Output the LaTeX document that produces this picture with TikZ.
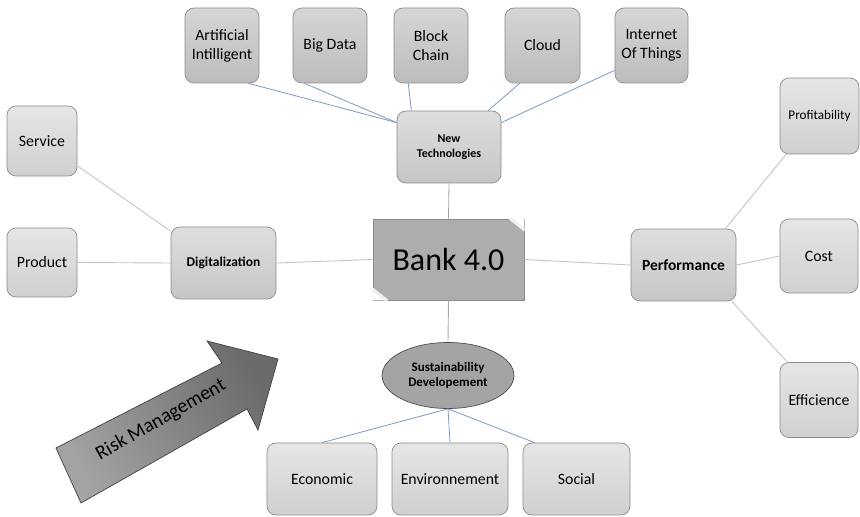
\documentclass[tikz,border=0pt]{standalone}
\usepackage{fontspec}
\setmainfont{Carlito}
\usetikzlibrary{shapes.geometric}
\definecolor{boxline}{HTML}{8C8C8C}
\definecolor{leaftop}{HTML}{E6E6E6}
\definecolor{leafbot}{HTML}{D0D0D0}
\definecolor{techtop}{HTML}{D6D6D6}
\definecolor{techbot}{HTML}{BCBCBC}
\definecolor{hubtop}{HTML}{DEDEDE}
\definecolor{hubbot}{HTML}{C6C6C6}
\definecolor{bankfill}{HTML}{ADADAD}
\definecolor{ovalfill}{HTML}{A4A4A4}
\definecolor{bluelink}{HTML}{7C98C4}
\definecolor{greylink}{HTML}{C4C4C4}
\definecolor{midlink}{HTML}{98A6B8}
\tikzset{
  x=1pt, y=1pt,
  card/.style={draw=boxline, line width=0.7pt, rounded corners=9pt,
    align=center, inner sep=0pt, font=\fontsize{15.8}{19}\selectfont},
  leafbox/.style={card, top color=leaftop, bottom color=leafbot,
    minimum width=78pt, minimum height=74pt},
  techbox/.style={card, top color=techtop, bottom color=techbot,
    minimum width=74pt, minimum height=75pt},
  hubbox/.style={card, top color=hubtop, bottom color=hubbot,
    minimum width=105pt, minimum height=72pt},
  bottombox/.style={card, top color=leaftop, bottom color=leafbot,
    minimum height=72pt},
  bluewire/.style={draw=bluelink, line width=0.8pt},
  greywire/.style={draw=greylink, line width=0.9pt},
  midwire/.style={draw=midlink, line width=0.8pt}
}
\begin{document}
\begin{tikzpicture}
\useasboundingbox (0,0) rectangle (860,517);

% technology row
\node[techbox] (ai)  at (222,471.5) {Artificial\\Intilligent};
\node[techbox] (bd)  at (330,471.5) {Big Data};
\node[techbox] (bc)  at (431,471.5) {Block\\Chain};
\node[techbox, minimum width=75pt] (cl)  at (542.5,471.5) {Cloud};
\node[techbox, minimum width=73pt] (iot) at (651.5,471.5) {Internet\\Of Things};

% hubs around the centre
\node[hubbox, minimum width=104pt, font=\bfseries\fontsize{12}{14.5}\selectfont] (nt) at (449,370) {New\\Technologies};
\node[hubbox, font=\bfseries\fontsize{13.5}{15}\selectfont] (dig) at (223.5,254) {Digitalization};
\node[hubbox, font=\bfseries\fontsize{15.5}{17}\selectfont] (perf) at (683.5,252) {Performance};

% left leaves
\node[leafbox, minimum width=70pt, minimum height=70pt] (svc) at (42,376) {Service};
\node[leafbox, minimum width=70pt, minimum height=69pt] (prd) at (42,254.5) {Product};

% right leaves
\node[leafbox, minimum width=79pt, minimum height=76pt, font=\fontsize{13.2}{15}\selectfont] (prof) at (819.5,401) {Profitability};
\node[leafbox] (cost) at (819,261) {Cost};
\node[leafbox, minimum height=75pt] (eff) at (819,117) {Efficience};

% sustainability branch
\node[ellipse, draw=black!70, line width=0.7pt, fill=ovalfill, minimum width=132pt, minimum height=66pt,
  inner sep=0pt, align=center, font=\bfseries\fontsize{13}{15.5}\selectfont] (sus) at (448,141.5) {Sustainability\\Developement};
\node[bottombox, minimum width=110pt] (eco) at (322,38) {Economic};
\node[bottombox, minimum width=116pt] (env) at (450,38) {Environnement};
\node[bottombox, minimum width=107pt] (soc) at (576.5,38) {Social};

% central node with its two folded corners
\node[draw=boxline, line width=0.7pt, fill=bankfill, minimum width=151pt, minimum height=81pt,
  inner sep=0pt, font=\fontsize{32}{36}\selectfont] (bank) at (448.5,257.5) {Bank 4.0};
\fill[white] (bank.north east) -- ([xshift=-16pt]bank.north east) -- ([yshift=-13pt]bank.north east) -- cycle;
\draw[white!88!gray, line width=3pt] ([xshift=-14pt]bank.north east) -- ([yshift=-11pt]bank.north east);
\fill[white] (bank.south west) -- ([xshift=16pt]bank.south west) -- ([yshift=13pt]bank.south west) -- cycle;
\draw[white!88!gray, line width=3pt] ([xshift=14pt]bank.south west) -- ([yshift=11pt]bank.south west);

% connectors of the technology row
\draw[bluewire] (ai.-55)   -- (nt.155);
\draw[bluewire] (bd.-124)  -- (nt.155);
\draw[bluewire] (bc.-121)  -- (nt.136);
\draw[bluewire] (cl.-121)  -- (nt.43);
\draw[bluewire] (iot.-146) -- (nt.25);

% connectors of the centre
\draw[midwire]  (nt.south)   -- (bank.north);
\draw[greywire, draw=black!35] (bank.south) -- (sus.north);
\draw[greywire] (bank.west)  -- (dig.east);
\draw[greywire] (bank.east)  -- (perf.west);

% digitalization branch
\draw[greywire] (svc.-35)   -- (dig.149);
\draw[greywire] (prd.east)  -- (dig.west);

% performance branch
\draw[greywire] (perf.41)   -- (prof.-131);
\draw[greywire] (perf.east) -- (cost.west);
\draw[greywire] (perf.-37)  -- (eff.130);

% sustainability branch
\draw[bluewire] (sus.south) -- (eco.north);
\draw[bluewire] (sus.south) -- (env.north);
\draw[bluewire] (sus.south) -- (soc.139);

% risk management arrow
\coordinate (tailA) at (81,14);
\coordinate (tailB) at (56,69);
\coordinate (neckA) at (222,154);
\coordinate (wingA) at (207,176);
\coordinate (tip)   at (278,158);
\coordinate (wingB) at (258,87);
\coordinate (neckB) at (247,108);
\draw[draw=black!75, line width=0.7pt, left color=black!36, right color=black!58, shading angle=120]
  (tailA) -- (tailB) -- (neckA) -- (wingA) -- (tip) -- (wingB) -- (neckB) -- cycle;
\node[rotate=29.5, font=\fontsize{20}{22}\selectfont, text=black] (risk) at (161,97) {Risk Management};
\end{tikzpicture}
\end{document}
